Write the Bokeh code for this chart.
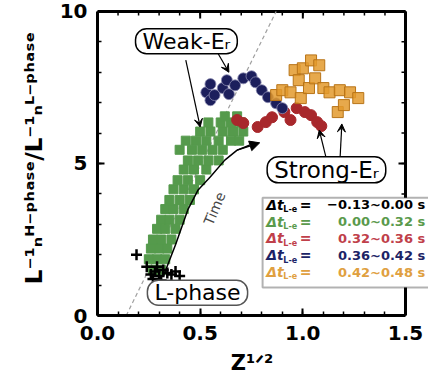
import numpy as np
from bokeh.plotting import figure
from bokeh.models import (Range1d, SingleIntervalTicker, Label, Arrow,
                          VeeHead, NormalHead, BoxAnnotation, PrintfTickFormatter)
from bokeh.embed import file_html
from bokeh.resources import INLINE

# ---------------- data ----------------
green_x = [0.27, 0.31,
           0.25, 0.29, 0.33,
           0.26, 0.30, 0.34,
           0.27, 0.31, 0.36,
           0.29, 0.33, 0.38,
           0.31, 0.35, 0.40,
           0.33, 0.37, 0.42,
           0.35, 0.40, 0.45,
           0.37, 0.42, 0.47,
           0.39, 0.44, 0.50,
           0.42, 0.47, 0.53,
           0.44, 0.49, 0.54, 0.59,
           0.40, 0.46, 0.51, 0.56, 0.61,
           0.43, 0.48, 0.53, 0.59, 0.65, 0.69,
           0.50, 0.55, 0.61, 0.66, 0.71,
           0.54, 0.60, 0.65, 0.70,
           0.62, 0.68]
green_y = [1.50, 1.50,
           1.85, 1.85, 1.85,
           2.20, 2.20, 2.20,
           2.50, 2.50, 2.50,
           2.85, 2.85, 2.85,
           3.15, 3.15, 3.15,
           3.50, 3.50, 3.50,
           3.80, 3.80, 3.80,
           4.15, 4.15, 4.15,
           4.45, 4.45, 4.45,
           4.80, 4.80, 4.80,
           5.10, 5.10, 5.10, 5.10,
           5.45, 5.45, 5.45, 5.45, 5.45,
           5.75, 5.75, 5.75, 5.75, 5.75, 5.75,
           6.05, 6.05, 6.05, 6.05, 6.05,
           6.35, 6.35, 6.35, 6.35,
           6.55, 6.55]

black_x = [0.19, 0.24, 0.26, 0.28, 0.30, 0.32, 0.34, 0.36, 0.38, 0.27, 0.31, 0.29, 0.40]
black_y = [2.00, 1.60, 1.35, 1.45, 1.30, 1.50, 1.40, 1.35, 1.45, 1.20, 1.15, 1.60, 1.30]

red_x = [0.68, 0.71, 0.78, 0.82, 0.85, 0.91, 0.94, 0.97, 1.01, 1.04, 1.07, 1.09]
red_y = [6.43, 6.33, 6.20, 6.36, 6.52, 6.69, 6.43, 6.82, 6.69, 6.59, 6.36, 6.23]

navy_x = [0.53, 0.55, 0.55, 0.57, 0.61, 0.63, 0.64, 0.67, 0.71, 0.75, 0.77, 0.80, 0.83, 0.87, 0.90]
navy_y = [7.34, 7.61, 7.08, 7.25, 7.48, 7.74, 7.28, 7.57, 7.80, 7.87, 7.67, 7.41, 7.18, 6.98, 6.82]

orange_x = [0.87, 0.90, 0.94, 0.96, 0.98, 0.99, 1.00, 1.03, 1.04, 1.06, 1.08, 1.10,
            1.13, 1.17, 1.18, 1.20, 1.23, 1.27]
orange_y = [7.25, 7.41, 7.34, 8.07, 7.74, 7.15, 8.13, 7.48, 8.39, 7.80, 8.23, 7.48,
            7.34, 6.69, 7.41, 6.92, 7.34, 7.15]

# guide line and "Time" arrow path
dash_x = [0.14, 0.87]
dash_y = [0.0, 10.0]
time_x = [0.32, 0.38, 0.44, 0.49, 0.55, 0.62, 0.68, 0.74]
time_y = [1.28, 2.33, 3.48, 4.13, 4.56, 5.11, 5.44, 5.60]

legend_values = ["\u22120.13~0.00 s", "0.00~0.32 s", "0.32~0.36 s", "0.36~0.42 s", "0.42~0.48 s"]
legend_colors = ["black", "#5a9a4c", "#c0404a", "#1c2466", "#e0a040"]

x_min, x_max = 0.0, 1.5
y_min, y_max = 0.0, 10.0
x_ticks_interval = 0.5
y_ticks_interval = 5
x_major_ticks = [0.0, 0.5, 1.0, 1.5]
x_minor_ticks = [i / 10 for i in range(16)]
y_major_ticks = [0, 5, 10]
y_minor_ticks = [0, 1, 2, 3, 4, 5, 6, 7, 8, 9, 10]

GREEN = "#559a4c"
RED = "#a8282c"
NAVY = "#1c1f5c"
ORANGE = "#e39a2d"
FONT = "DejaVu Sans"

# frame runs past x = 1.5 and above y = 10 so the legend and frame sides are not clipped
X_RIGHT = 1.612
Y_TOP = 10.36

p = figure(width=428, height=377, x_range=Range1d(x_min, X_RIGHT), y_range=Range1d(y_min, Y_TOP),
           output_backend="svg", toolbar_location=None,
           min_border_left=97, min_border_right=0, min_border_top=0, min_border_bottom=61)
p.grid.visible = False
p.outline_line_color = None


def style_axis(ax):
    ax.axis_line_width = 3
    ax.axis_line_color = "black"
    ax.major_tick_in = 7
    ax.major_tick_out = 0
    ax.minor_tick_in = 4
    ax.minor_tick_out = 0
    ax.major_tick_line_width = 2
    ax.minor_tick_line_width = 1.5
    ax.major_label_text_font = FONT
    ax.major_label_text_font_style = "bold"
    ax.major_label_text_font_size = "20px"
    ax.major_label_text_color = "black"
    ax.major_label_standoff = 10
    ax.axis_label_text_font = FONT
    ax.axis_label_text_font_style = "bold"
    ax.axis_label_text_color = "black"


p.xaxis.ticker = SingleIntervalTicker(interval=x_ticks_interval, num_minor_ticks=5)
p.yaxis.ticker = SingleIntervalTicker(interval=y_ticks_interval, num_minor_ticks=5)
p.xaxis.formatter = PrintfTickFormatter(format="%.1f")
p.yaxis.formatter = PrintfTickFormatter(format="%d")
style_axis(p.xaxis[0])
style_axis(p.yaxis[0])
p.xaxis.bounds = (x_min, x_max)
p.yaxis.bounds = (y_min, y_max)
p.xaxis.axis_label = "Z\u00b9\u141f\u00b2\u00a0\u00a0\u00a0"
p.xaxis.axis_label_text_font_size = "21px"
p.xaxis.axis_label_standoff = 8
p.yaxis.axis_label = ("L\u207b\u00b9\u2099\u1d34\u207b\u1d56\u02b0\u1d43\u02e2\u1d49"
                      "/L\u207b\u00b9\u2099\u1d38\u207b\u1d56\u02b0\u1d43\u02e2\u1d49")
p.yaxis.axis_label_text_font_size = "23px"
p.yaxis.axis_label_standoff = 10

# top and right frame sides with inward ticks
p.segment(x0=[x_min, x_max], y0=[y_max, y_min], x1=[x_max, x_max], y1=[y_max, y_max],
          line_color="black", line_width=3)
p.ray(x=[x_max] * len(y_minor_ticks), y=y_minor_ticks, length=4, length_units="screen",
      angle=np.pi, line_color="black", line_width=1.5)
p.ray(x=[x_max] * len(y_major_ticks), y=y_major_ticks, length=7, length_units="screen",
      angle=np.pi, line_color="black", line_width=2)
p.ray(x=x_minor_ticks, y=[y_max] * len(x_minor_ticks), length=4, length_units="screen",
      angle=-np.pi / 2, line_color="black", line_width=1.5)
p.ray(x=x_major_ticks, y=[y_max] * len(x_major_ticks), length=7, length_units="screen",
      angle=-np.pi / 2, line_color="black", line_width=2)

# ---------------- glyphs ----------------
p.line(dash_x, dash_y, line_color="#a0a0a0", line_dash="4 3", line_width=1.2)
p.scatter(green_x, green_y, marker="square", size=9, fill_color=GREEN, line_color=GREEN)
p.scatter(black_x, black_y, marker="cross", size=11, line_color="black", line_width=2.5)
p.scatter(red_x, red_y, marker="circle", size=11, fill_color=RED, line_color=RED)
p.scatter(navy_x, navy_y, marker="circle", size=11, fill_color=NAVY, line_color="#8a8ab0",
          line_width=0.8)
p.scatter(orange_x, orange_y, marker="square", size=11, fill_color=ORANGE, fill_alpha=0.85,
          line_color="#b87418", line_width=1)

# Time arrow
p.line(time_x, time_y, line_color="black", line_width=1.5)
p.add_layout(Arrow(end=NormalHead(size=10, fill_color="black", line_color="black"),
                   x_start=time_x[-2], y_start=time_y[-2], x_end=0.79, y_end=5.68,
                   line_color="black", line_width=1.5))
p.add_layout(Label(x=0.57, y=3.52, text="Time", angle=1.17, text_align="center",
                   text_baseline="middle", text_font=FONT, text_font_size="14px"))

# annotation boxes with arrows
for (tx, ty, hx, hy) in [(0.43, 8.4, 0.50, 6.2), (0.58, 8.7, 0.64, 8.0),
                         (1.12, 5.0, 1.08, 6.1), (1.18, 5.0, 1.19, 6.3)]:
    p.add_layout(Arrow(end=VeeHead(size=8, fill_color="black", line_color="black", line_width=1),
                       x_start=tx, y_start=ty, x_end=hx, y_end=hy,
                       line_color="black", line_width=1.2))

for (bx, by, txt, fs, bc) in [(0.433, 9.02, "Weak-E\u1d63", "22px", "black"),
                              (1.115, 4.79, "Strong-E\u1d63", "23px", "black"),
                              (0.487, 0.75, "L-phase", "22px", "#555555")]:
    p.add_layout(Label(x=bx, y=by, text=txt, text_align="center", text_baseline="middle",
                       text_font=FONT, text_font_size=fs, text_color="black",
                       background_fill_color="white", border_line_color=bc,
                       border_line_width=1.5, padding=(7, 0), border_radius=11))

# legend box
p.add_layout(BoxAnnotation(left=0.804, right=1.70, top=3.87, bottom=0.92,
                           fill_color="white", fill_alpha=1.0,
                           line_color="black", line_width=2))
row_y = [3.64, 3.08, 2.54, 1.98, 1.43]
for val, col, ry in zip(legend_values, legend_colors, row_y):
    p.add_layout(Label(x=0.822, y=ry, text="\u0394t", text_baseline="middle",
                       text_font=FONT, text_font_style="bold italic", text_font_size="14px",
                       text_color=col))
    p.add_layout(Label(x=0.905, y=ry - 0.16, text="L-e", text_baseline="middle",
                       text_font=FONT, text_font_style="bold", text_font_size="8px",
                       text_color=col))
    p.add_layout(Label(x=0.985, y=ry, text="=", text_baseline="middle",
                       text_font=FONT, text_font_style="bold", text_font_size="14px",
                       text_color=col))
    p.add_layout(Label(x=1.596, y=ry, text=val, text_baseline="middle", text_align="right",
                       text_font=FONT, text_font_style="bold", text_font_size="13px",
                       text_color=col))

open("out.html", "w").write(file_html(p, INLINE))
